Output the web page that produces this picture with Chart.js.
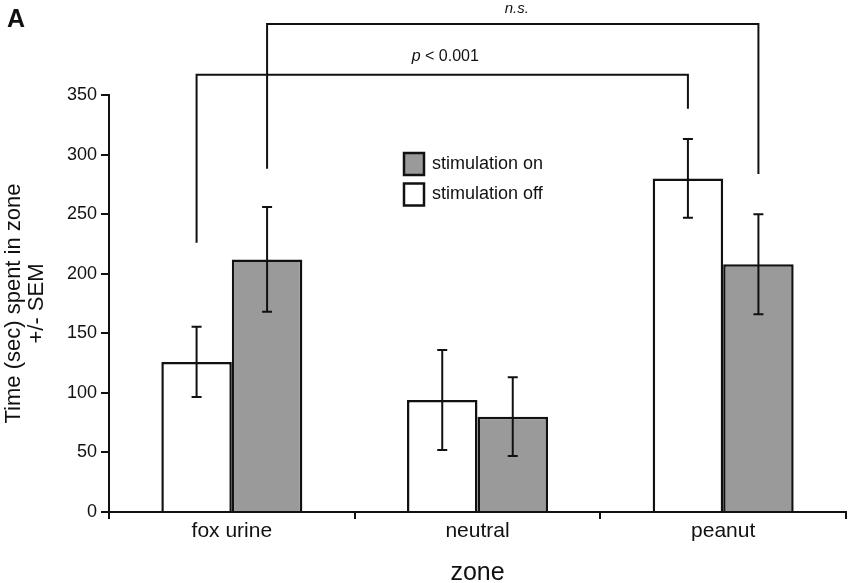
<!DOCTYPE html>
<html>
<head>
<meta charset="utf-8">
<script src="https://cdn.jsdelivr.net/npm/chart.js@4.4.1/dist/chart.umd.min.js"></script>
<style>
html,body{margin:0;padding:0;background:#fff;}
#wrap{width:850px;height:583px;}
</style>
</head>
<body>
<div id="wrap"><canvas id="c" width="850" height="583"></canvas></div>
<script>
const categories = ['fox urine', 'neutral', 'peanut'];
const seriesLabels = ['stimulation off', 'stimulation on'];
const stimOff = [126, 94, 280];
const stimOffSem = [29.5, 42, 33];
const stimOn = [212, 80, 208];
const stimOnSem = [44, 33, 42];
const yMin = 0, yMax = 350, yStep = 50;
// significance brackets: [dataset, category] endpoints, bar level and leg ends (in data units)
const brackets = [
  {label: 'p < 0.001', a: [0, 0], b: [0, 2], level: 367, legA: 226, legB: 338.5},
  {label: 'n.s.', a: [1, 0], b: [1, 2], level: 409.6, legA: 288, legB: 283.7}
];

const FONT = "'Liberation Sans', Arial, Helvetica, sans-serif";
const INK = '#111';
const TXT = '#111';

const errorBarPlugin = {
  id: 'errorBars',
  afterDatasetsDraw(chart) {
    const ctx = chart.ctx, y = chart.scales.y;
    ctx.save();
    ctx.strokeStyle = INK;
    ctx.lineWidth = 2;
    chart.data.datasets.forEach((ds, i) => {
      const meta = chart.getDatasetMeta(i);
      meta.data.forEach((bar, j) => {
        const v = ds.data[j], e = ds.sem[j];
        const yt = y.getPixelForValue(v + e), yb = y.getPixelForValue(v - e);
        const x = bar.x, cap = 5;
        ctx.beginPath();
        ctx.moveTo(x, yt); ctx.lineTo(x, yb);
        ctx.moveTo(x - cap, yt); ctx.lineTo(x + cap, yt);
        ctx.moveTo(x - cap, yb); ctx.lineTo(x + cap, yb);
        ctx.stroke();
      });
    });
    ctx.restore();
  }
};

const decorPlugin = {
  id: 'decor',
  afterDraw(chart) {
    const ctx = chart.ctx, y = chart.scales.y;
    ctx.save();
    ctx.strokeStyle = INK;
    ctx.lineWidth = 2;
    brackets.forEach(b => {
      const xa = chart.getDatasetMeta(b.a[0]).data[b.a[1]].x;
      const xb = chart.getDatasetMeta(b.b[0]).data[b.b[1]].x;
      const yl = y.getPixelForValue(b.level);
      ctx.beginPath();
      ctx.moveTo(xa, y.getPixelForValue(b.legA));
      ctx.lineTo(xa, yl);
      ctx.lineTo(xb, yl);
      ctx.lineTo(xb, y.getPixelForValue(b.legB));
      ctx.stroke();
    });
    ctx.fillStyle = TXT;
    ctx.textBaseline = 'middle';
    {
      const b = brackets[0];
      const xa = chart.getDatasetMeta(b.a[0]).data[b.a[1]].x;
      const xb = chart.getDatasetMeta(b.b[0]).data[b.b[1]].x;
      const cx = (xa + xb) / 2 + 3;
      const yy = y.getPixelForValue(b.level) - 18;
      ctx.font = 'italic 16px ' + FONT;
      const w1 = ctx.measureText('p').width;
      ctx.font = '16px ' + FONT;
      const rest = ' < 0.001';
      const w2 = ctx.measureText(rest).width;
      const x0 = cx - (w1 + w2) / 2;
      ctx.font = 'italic 16px ' + FONT;
      ctx.textAlign = 'left';
      ctx.fillText('p', x0, yy);
      ctx.font = '16px ' + FONT;
      ctx.fillText(rest, x0 + w1, yy);
    }
    {
      const b = brackets[1];
      const xa = chart.getDatasetMeta(b.a[0]).data[b.a[1]].x;
      const xb = chart.getDatasetMeta(b.b[0]).data[b.b[1]].x;
      ctx.font = 'italic 15px ' + FONT;
      ctx.textAlign = 'center';
      ctx.fillText(b.label, (xa + xb) / 2 + 4, y.getPixelForValue(b.level) - 15);
    }
    ctx.font = 'bold 25px ' + FONT;
    ctx.textAlign = 'left';
    ctx.textBaseline = 'alphabetic';
    ctx.fillText('A', 7, 27);
    const items = [chart.data.datasets[1], chart.data.datasets[0]];
    ctx.font = '18px ' + FONT;
    ctx.textBaseline = 'middle';
    items.forEach((ds, k) => {
      const bx = 404, by = 153 + k * 30.5, bw = 20, bh = 22;
      ctx.fillStyle = ds.backgroundColor;
      ctx.fillRect(bx, by, bw, bh);
      ctx.strokeStyle = INK;
      ctx.lineWidth = 2.5;
      ctx.strokeRect(bx, by, bw, bh);
      ctx.fillStyle = TXT;
      ctx.fillText(ds.label, 432, by + bh / 2);
    });
    ctx.restore();
  }
};

new Chart(document.getElementById('c'), {
  type: 'bar',
  data: {
    labels: categories,
    datasets: [
      {label: seriesLabels[0], data: stimOff, sem: stimOffSem, backgroundColor: '#ffffff', borderColor: INK, borderWidth: 2.5},
      {label: seriesLabels[1], data: stimOn, sem: stimOnSem, backgroundColor: '#9a9a9a', borderColor: INK, borderWidth: 2.5}
    ]
  },
  options: {
    responsive: false,
    animation: false,
    devicePixelRatio: 1,
    layout: {padding: {top: 95, right: 4, left: 0, bottom: 0}},
    datasets: {bar: {categoryPercentage: 0.574, barPercentage: 1}},
    plugins: {legend: {display: false}, tooltip: {enabled: false}},
    scales: {
      x: {
        grid: {offset: true, drawOnChartArea: false, drawTicks: true, tickLength: 7, color: INK, lineWidth: 2},
        border: {display: true, color: INK, width: 2},
        ticks: {font: {size: 21, family: FONT}, color: TXT, padding: 0},
        title: {display: true, text: 'zone', color: TXT, font: {size: 25, family: FONT, lineHeight: 0.8}, padding: {top: 0, bottom: 0}},
        afterFit(s) { s.height = 71; }
      },
      y: {
        min: yMin, max: yMax,
        ticks: {stepSize: yStep, font: {size: 18, family: FONT}, color: TXT, padding: 4},
        grid: {drawOnChartArea: false, drawTicks: true, tickLength: 8, color: INK, lineWidth: 2},
        border: {display: true, color: INK, width: 2},
        title: {display: true, text: ['Time (sec) spent in zone', '+/- SEM'], color: TXT, font: {size: 22, family: FONT, lineHeight: 1.05}, padding: {top: 2, bottom: 0}},
        afterFit(s) { s.width = 109; }
      }
    }
  },
  plugins: [errorBarPlugin, decorPlugin]
});
</script>
</body>
</html>
